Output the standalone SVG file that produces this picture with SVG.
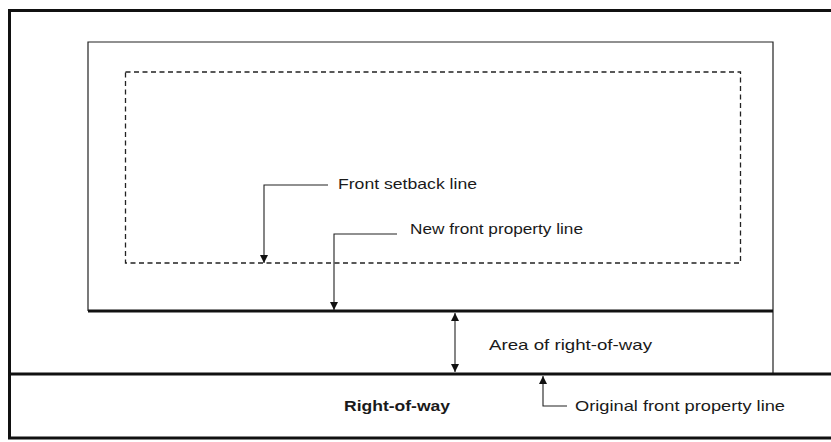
<svg xmlns="http://www.w3.org/2000/svg" width="831" height="442" viewBox="0 0 831 442">
<defs>
<marker id="ah" viewBox="0 0 8 10" refX="8" refY="5" markerWidth="8" markerHeight="10" markerUnits="userSpaceOnUse" orient="auto-start-reverse">
<path d="M0,1 L8,5 L0,9 Z" fill="#111"/>
</marker>
<style>
.lbl{font-family:"Liberation Sans",Arial,sans-serif;font-size:15px;fill:#1a1a1a}
.bold{font-weight:bold}
.thin{fill:none;stroke:#222;stroke-width:1.2}
.thick{fill:none;stroke:#111;stroke-width:3}
.lead{fill:none;stroke:#222;stroke-width:1.1}
</style>
</defs>
<rect width="831" height="442" fill="#fff"/>
<g id="frame"><rect x="9.5" y="10.5" width="830" height="427.5" fill="none" stroke="#111" stroke-width="3"/></g>
<g id="property"><path class="thin" d="M88,311 V42 H773 V374"/></g>
<g id="setback"><rect x="125.5" y="72" width="615" height="191" fill="none" stroke="#222" stroke-width="1.3" stroke-dasharray="5,3.5"/></g>
<g id="new-front-line"><line class="thick" x1="88" y1="311" x2="773" y2="311"/></g>
<g id="original-front-line"><line class="thick" x1="9" y1="374" x2="831" y2="374"/></g>
<g id="labels">
<text id="t-setback" class="lbl" x="338" y="189" textLength="139" lengthAdjust="spacingAndGlyphs">Front setback line</text>
<text id="t-new" class="lbl" x="410" y="234" textLength="173" lengthAdjust="spacingAndGlyphs">New front property line</text>
<text id="t-area" class="lbl" x="489" y="350" textLength="163" lengthAdjust="spacingAndGlyphs">Area of right-of-way</text>
<text id="t-row" class="lbl bold" x="344" y="411" textLength="106" lengthAdjust="spacingAndGlyphs">Right-of-way</text>
<text id="t-orig" class="lbl" x="575" y="411" textLength="210" lengthAdjust="spacingAndGlyphs">Original front property line</text>
</g>
<g id="connectors">
<path class="lead" d="M328,185 H264 V263" marker-end="url(#ah)"/>
<path class="lead" d="M397,234 H334 V310" marker-end="url(#ah)"/>
<line class="lead" x1="455" y1="313" x2="455" y2="372" marker-start="url(#ah)" marker-end="url(#ah)"/>
<path class="lead" d="M567,406 H543 V376" marker-end="url(#ah)"/>
</g>
</svg>
